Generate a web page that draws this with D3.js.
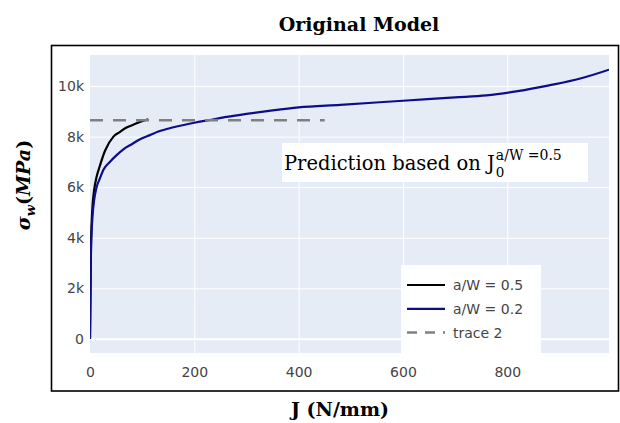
<!DOCTYPE html>
<html><head><meta charset="utf-8">
<script src="https://cdn.jsdelivr.net/npm/d3@7/dist/d3.min.js"></script>
<style>html,body{margin:0;padding:0;background:#fff;}svg{display:block;}</style>
</head><body>
<svg id="chart" width="620" height="423"></svg>
<script>
// ---- data ----
const seriesNames = ["a/W = 0.5", "a/W = 0.2", "trace 2"];
const J05 = [0, 0.5, 1, 1.5, 2, 3, 5, 8, 12, 19, 29, 45, 57, 70, 83, 93, 112];
const S05 = [0, 1000, 2000, 3000, 3800, 4500, 5300, 5900, 6350, 6850, 7450, 8000, 8180, 8360, 8470, 8560, 8690];
const J02 = [0, 0.5, 1, 1.5, 2, 3, 5, 8, 12, 19, 26, 38, 50, 64, 80, 96, 115, 131, 160, 200, 230, 262, 300, 343, 400, 480, 600, 700, 760, 820, 880, 940, 995];
const S02 = [0, 1000, 2000, 3000, 3600, 4200, 4900, 5500, 5950, 6350, 6700, 7000, 7250, 7500, 7700, 7900, 8060, 8200, 8370, 8550, 8660, 8780, 8900, 9020, 9160, 9260, 9420, 9550, 9630, 9800, 10030, 10300, 10650];
const Jtr2 = [0, 450];
const Str2 = [8650, 8650];
const xTicks = [0, 200, 400, 600, 800];
const yTicks = [0, 2000, 4000, 6000, 8000, 10000];
const yTickLabels = ["0", "2k", "4k", "6k", "8k", "10k"];

const svg = d3.select("#chart");
const plot = {left: 90, right: 609, top: 55, bottom: 353};

const x = d3.scaleLinear().domain([0, 995]).range([plot.left, plot.right]);
const y = d3.scaleLinear().domain([-560, 11230]).range([plot.bottom, plot.top]);

// outer frame
svg.append("rect").attr("x", 51.5).attr("y", 45.5).attr("width", 567).attr("height", 345.5)
  .attr("fill", "none").attr("stroke", "#000").attr("stroke-width", 1.6);

// plot background
svg.append("rect").attr("x", plot.left).attr("y", plot.top)
  .attr("width", plot.right - plot.left).attr("height", plot.bottom - plot.top)
  .attr("fill", "#E5ECF6");

// grid
const grid = svg.append("g");
grid.append("g").attr("transform", `translate(0,${plot.top})`)
  .call(d3.axisBottom(x).tickValues(xTicks.filter(d => d > 0)).tickSize(plot.bottom - plot.top).tickFormat(""))
  .call(g => { g.select(".domain").remove(); g.selectAll("line").attr("stroke", "#fff").attr("stroke-width", 1); });
grid.append("g").attr("transform", `translate(${plot.left},0)`)
  .call(d3.axisRight(y).tickValues(yTicks).tickSize(plot.right - plot.left).tickFormat(""))
  .call(g => { g.select(".domain").remove(); g.selectAll("line").attr("stroke", "#fff").attr("stroke-width", d => d === 0 ? 2 : 1); });

// tick labels
const tickFont = "'DejaVu Sans', Verdana, sans-serif";
svg.append("g").attr("transform", `translate(0,${plot.bottom})`)
  .call(d3.axisBottom(x).tickValues(xTicks).tickSize(0).tickPadding(14).tickFormat(d3.format("d")))
  .call(g => { g.select(".domain").remove(); g.selectAll("text").attr("fill", "#444").style("font-family", tickFont).style("font-size", "14px"); });
svg.append("g").attr("transform", `translate(${plot.left},0)`)
  .call(d3.axisLeft(y).tickValues(yTicks).tickSize(0).tickPadding(6).tickFormat((d, i) => yTickLabels[i]))
  .call(g => { g.select(".domain").remove(); g.selectAll("text").attr("fill", "#444").style("font-family", tickFont).style("font-size", "14px"); });

// clip
svg.append("clipPath").attr("id", "clip").append("rect")
  .attr("x", plot.left).attr("y", plot.top).attr("width", plot.right - plot.left).attr("height", plot.bottom - plot.top);

const line = d3.line().x(d => x(d[0])).y(d => y(d[1])).curve(d3.curveMonotoneX);
const traces = [
  {name: seriesNames[0], J: J05, S: S05, color: "#000000", width: 2.2, dash: null},
  {name: seriesNames[1], J: J02, S: S02, color: "#0d0d8a", width: 2.2, dash: null},
  {name: seriesNames[2], J: Jtr2, S: Str2, color: "#808080", width: 2.5, dash: "13,10"}
];
const lines = svg.append("g").attr("clip-path", "url(#clip)");
traces.forEach(t => {
  lines.append("path").datum(t.J.map((j, i) => [j, t.S[i]]))
    .attr("d", line).attr("fill", "none").attr("stroke", t.color)
    .attr("stroke-width", t.width).attr("stroke-dasharray", t.dash).attr("stroke-linejoin", "round");
});

// annotation
const serif = "'DejaVu Serif', 'Liberation Serif', serif";
const ann = svg.append("g");
ann.append("rect").attr("x", 282).attr("y", 143).attr("width", 306).attr("height", 39).attr("fill", "#fff");
const mainT = ann.append("text").attr("x", 284).attr("y", 170)
  .style("font-family", serif).style("font-size", "19.5px").attr("fill", "#000")
  .text("Prediction based on J");
const mw = mainT.node().getComputedTextLength();
ann.append("text").attr("x", 284 + mw + 1).attr("y", 177)
  .style("font-family", serif).style("font-size", "13.5px").attr("fill", "#000").text("0");
ann.append("text").attr("x", 284 + mw + 1).attr("y", 160)
  .style("font-family", serif).style("font-size", "14px").attr("fill", "#000").text("a/W =0.5");

// legend
const lg = svg.append("g");
lg.append("rect").attr("x", 401).attr("y", 265).attr("width", 140).attr("height", 88).attr("fill", "#fff");
traces.forEach((t, i) => {
  const yy = 285 + i * 23.8;
  lg.append("line").attr("x1", 407).attr("x2", 445).attr("y1", yy).attr("y2", yy)
    .attr("stroke", t.color).attr("stroke-width", t.width).attr("stroke-dasharray", t.dash ? "10,8" : null);
  lg.append("text").attr("x", 453).attr("y", yy + 5).attr("fill", "#444")
    .style("font-family", tickFont).style("font-size", "14px").text(t.name);
});

// title
svg.append("text").attr("x", 359).attr("y", 31).attr("text-anchor", "middle")
  .style("font-family", serif).style("font-weight", "bold").style("font-size", "19px")
  .text("Original Model");

// x axis title
svg.append("text").attr("x", 340).attr("y", 416).attr("text-anchor", "middle")
  .style("font-family", serif).style("font-weight", "bold").style("font-size", "19px")
  .text("J (N/mm)");

// y axis title
const yt = svg.append("text").attr("transform", "translate(30,185) rotate(-90)").attr("text-anchor", "middle")
  .style("font-family", serif).style("font-weight", "bold").style("font-size", "19px");
yt.append("tspan").style("font-style", "italic").text("σ");
yt.append("tspan").style("font-style", "italic").style("font-size", "13px").attr("dy", 5).text("w");
yt.append("tspan").attr("dy", -5).text("(");
yt.append("tspan").style("font-style", "italic").text("MPa");
yt.append("tspan").text(")");
</script>
</body></html>
